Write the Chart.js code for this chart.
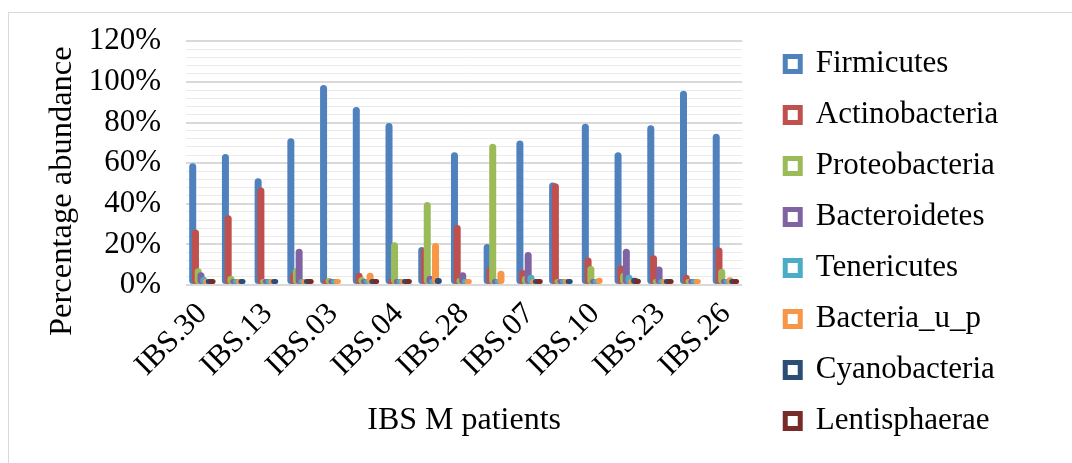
<!DOCTYPE html>
<html>
<head>
<meta charset="utf-8">
<script src="https://cdn.jsdelivr.net/npm/chart.js@4.4.1/dist/chart.umd.min.js"></script>
<style>
  html, body { margin: 0; padding: 0; background: #fff; }
  #wrap { position: relative; width: 1072px; height: 463px; overflow: hidden; }
  #chartArea { display: block; }
  #frame { position: absolute; left: 8px; top: 12px; width: 1080px; height: 470px; border: 1px solid #d9d9d9; pointer-events: none; }
</style>
</head>
<body>
<div id="wrap">
  <canvas id="chartArea" width="1072" height="463"></canvas>
  <div id="frame"></div>
</div>
<script>
// patients on the x axis (only every other name is printed in the source chart)
var patients = ['IBS.30', '', 'IBS.13', '', 'IBS.03', '', 'IBS.04', '', 'IBS.28', '', 'IBS.07', '', 'IBS.10', '', 'IBS.23', '', 'IBS.26']
var phyla = ['Firmicutes', 'Actinobacteria', 'Proteobacteria', 'Bacteroidetes', 'Tenericutes', 'Bacteria_u_p', 'Cyanobacteria', 'Lentisphaerae']
var phylumColors = ['#4F81BD', '#C0504D', '#9BBB59', '#8064A2', '#4BACC6', '#F79646', '#2C4D75', '#772C2A']

// percentage abundance, one value per patient
var firmicutes     = [60, 64.5, 52.6, 72.3, 98.5, 87.7, 79.8, 18.7, 65.4, 20.2, 71.2, 50.5, 79.4, 65.4, 78.6, 95.7, 74.5]
var actinobacteria = [27.3, 34.4, 48, 6.1, 2, 6, 3, 18.2, 29.5, 8.8, 7.4, 50.1, 13.6, 9.6, 14.6, 5, 18.5]
var proteobacteria = [8.3, 4.5, 2.5, 8.3, 3.4, 4, 21, 40.9, 3.5, 69.5, 4.6, 1, 9.4, 6, 1.5, 3, 8]
var bacteroidetes  = [6.3, 2, 2.5, 17.9, 1.5, 2.5, 1.5, 4.5, 6.3, 3, 16.2, 1.5, 2, 17.9, 9.1, 2, 2]
var tenericutes    = [4.1, 1.5, 1.5, 1, 1, 2, 1, 1.5, 1.5, 1, 5, 1, 1.5, 5, 1.5, 1.5, 2]
var bacteriaUP     = [2.8, 1.5, 2.5, 2, 1.7, 6, 1.5, 20.7, 3, 7, 2, 1, 3.6, 2, 1, 1.5, 3.8]
var cyanobacteria  = [1.5, 2, 2, 2, null, 2, 1.5, 3.5, null, null, 2.8, 1, null, 3.6, 1, null, 1.5]
var lentisphaerae  = [1.5, null, null, 2, null, 1.5, 1, null, null, null, 2.8, null, null, 3.1, 1, null, 1.5]

var seriesValues = [firmicutes, actinobacteria, proteobacteria, bacteroidetes, tenericutes, bacteriaUP, cyanobacteria, lentisphaerae]
var majorTicks = [0, 20, 40, 60, 80, 100, 120]
var yTitle = 'Percentage abundance'

var serif = 'Liberation Serif, Times New Roman, serif'

var datasets = []
for (var i = 0; i < phyla.length; i++) {
  datasets.push({
    label: phyla[i],
    data: seriesValues[i],
    backgroundColor: phylumColors[i],
    borderColor: phylumColors[i],
    borderWidth: 0,
    borderRadius: 3.5,
    borderSkipped: false,
    minBarLength: 6,
    barPercentage: 2.54,
    categoryPercentage: 0.675
  })
}

// excel draws later series on top of earlier ones, chart.js does the reverse
var drawInOrder = {
  id: 'drawInOrder',
  beforeDatasetsDraw: function(chart) {
    var ctx = chart.ctx
    var a = chart.chartArea
    ctx.save()
    ctx.beginPath()
    ctx.rect(a.left, a.top - 5, a.right - a.left, a.bottom - a.top + 10)
    ctx.clip()
    chart.getSortedVisibleDatasetMetas().forEach(function(m) { m.controller.draw() })
    ctx.restore()
    return false
  }
}

// y title sits lower than the plot centre in the original, so it is placed by hand
var yTitlePlugin = {
  id: 'yTitlePlugin',
  afterDraw: function(chart) {
    var ctx = chart.ctx
    var a = chart.chartArea
    ctx.save()
    ctx.translate(62, (a.top + a.bottom) / 2 + 28)
    ctx.rotate(-Math.PI / 2)
    ctx.font = '32.5px ' + serif
    ctx.fillStyle = '#000'
    ctx.textAlign = 'center'
    ctx.textBaseline = 'middle'
    ctx.fillText(yTitle, 0, 0)
    ctx.restore()
  }
}

var ctx = document.getElementById('chartArea').getContext('2d')
var myChart = new Chart(ctx, {
  type: 'bar',
  data: { labels: patients, datasets: datasets },
  plugins: [drawInOrder, yTitlePlugin],
  options: {
    responsive: false,
    animation: false,
    layout: { padding: { top: 28.5, left: 0, right: 63.8, bottom: 0 } },
    plugins: {
      tooltip: { enabled: false },
      legend: {
        position: 'right',
        align: 'start',
        maxWidth: 400,
        labels: {
          color: '#000',
          font: { family: serif, size: 31 },
          boxWidth: 15,
          boxHeight: 15,
          padding: 20,
          generateLabels: function(chart) {
            return Chart.defaults.plugins.legend.labels.generateLabels(chart).map(function(l) {
              l.fillStyle = '#fff'
              l.lineWidth = 5
              return l
            })
          }
        }
      }
    },
    scales: {
      x: {
        grid: { display: false },
        border: { display: false },
        ticks: {
          color: '#000',
          font: { family: serif, size: 31 },
          minRotation: 45,
          maxRotation: 45,
          autoSkip: false,
          labelOffset: 0,
          padding: 3
        },
        title: {
          display: true,
          text: 'IBS M patients',
          color: '#000',
          font: { family: serif, size: 32 },
          padding: { top: 0, bottom: 22.8 }
        },
        afterFit: function(s) { s.height = 178 }
      },
      y: {
        min: 0,
        max: 120,
        border: { display: false },
        grid: {
          drawTicks: false,
          color: function(c) { return majorTicks.indexOf(c.tick.value) >= 0 ? '#d9d9d9' : '#ebebeb' },
          lineWidth: function(c) { return majorTicks.indexOf(c.tick.value) >= 0 ? 2 : 1 }
        },
        ticks: {
          stepSize: 4,
          autoSkip: false,
          padding: 25,
          color: '#000',
          font: { family: serif, size: 31, lineHeight: 1.05 },
          callback: function(v) { return majorTicks.indexOf(v) >= 0 ? v + '%' : '' }
        },
        afterFit: function(s) { s.width = 186 }
      },
      gap: {
        type: 'linear',
        axis: 'y',
        position: 'right',
        grid: { display: false },
        border: { display: false },
        ticks: { display: false },
        afterFit: function(s) { s.width = 23 }
      }
    }
  }
})
</script>
</body>
</html>
